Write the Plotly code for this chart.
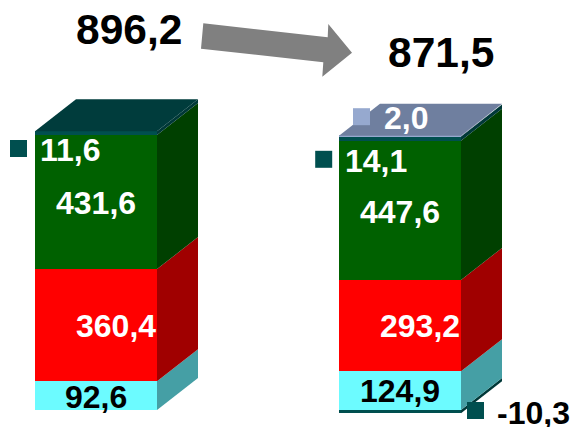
import plotly.graph_objects as go

# ---- data ----
bars = ["left", "right"]
cyan_vals = [92.6, 124.9]
red_vals = [360.4, 293.2]
green_vals = [431.6, 447.6]
teal_vals = [11.6, 14.1]
slate_vals = [0.0, 2.0]
negative_vals = [0.0, -10.3]
totals = [896.2, 871.5]

# ---- layout constants ----
W, H = 578, 427
PX_PER_UNIT = 0.311
BASE_PX = 410.0
BAR_STEP_PX = 304.0
BAR_W_PX = 122.0
LEFT_CENTER_PX = 96.0
DEPTH_X = 41.0 / BAR_STEP_PX
DEPTH_Y = 32.0 / PX_PER_UNIT
BAR_W = BAR_W_PX / BAR_STEP_PX

x_range = [-LEFT_CENTER_PX / BAR_STEP_PX, (W - LEFT_CENTER_PX) / BAR_STEP_PX]
y_range = [-(H - BASE_PX) / PX_PER_UNIT, BASE_PX / PX_PER_UNIT]

CYAN, CYAN_S = "#6CFBFF", "#459FA5"
RED, RED_S = "#FF0000", "#A00000"
GREEN, GREEN_S = "#006100", "#004000"
TEAL, TEAL_S = "#004F4F", "#003838"
SLATE, SLATE_S = "#96A9CF", "#6F7F9F"
TEAL_TOP = "#003C3C"
MARK_SLATE = "#96A9CF"

x_pos = [0, 1]
fig = go.Figure()

# front faces (stack order bottom to top)
for vals, col in [(cyan_vals, CYAN), (red_vals, RED), (green_vals, GREEN),
                  (teal_vals, TEAL), (slate_vals, SLATE), (negative_vals, TEAL)]:
    fig.add_trace(go.Bar(x=x_pos, y=vals, width=BAR_W, marker=dict(color=col, line=dict(width=0)),
                         hoverinfo="skip", showlegend=False))


def poly(xs, ys, col):
    fig.add_trace(go.Scatter(x=xs, y=ys, mode="lines", fill="toself", fillcolor=col,
                             line=dict(width=0, color=col), hoverinfo="skip", showlegend=False))


# side faces and tops, from the cumulative stack
for i, xc in enumerate(x_pos):
    r = xc + BAR_W / 2
    l = xc - BAR_W / 2
    base = 0.0
    if negative_vals[i] < 0:
        n = negative_vals[i]
        poly([r, r + DEPTH_X, r + DEPTH_X, r], [n, n + DEPTH_Y, DEPTH_Y, 0], TEAL_S)
    for vals, col in [(cyan_vals, CYAN_S), (red_vals, RED_S), (green_vals, GREEN_S),
                      (teal_vals, TEAL_S), (slate_vals, SLATE_S)]:
        v = vals[i]
        if v > 0:
            poly([r, r + DEPTH_X, r + DEPTH_X, r],
                 [base, base + DEPTH_Y, base + v + DEPTH_Y, base + v], col)
            base += v
    top_col = SLATE_S if slate_vals[i] > 0 else TEAL_TOP
    poly([l, l + DEPTH_X, r + DEPTH_X, r], [base, base + DEPTH_Y, base + DEPTH_Y, base], top_col)


def px(x):
    return x / W


def py(y):
    return 1 - y / H


def fmt(v):
    return f"{v:.1f}".replace(".", ",")


# square legend keys, placed in page pixels
keys = [(18.5, 148.5, TEAL), (323.7, 159.3, TEAL), (361.5, 116.7, MARK_SLATE), (475.5, 410.5, TEAL)]
for kx, ky, col in keys:
    fig.add_shape(type="rect", xref="paper", yref="paper",
                  x0=px(kx - 8.5), x1=px(kx + 8.5), y0=py(ky + 8.5), y1=py(ky - 8.5),
                  fillcolor=col, line=dict(width=0), layer="above")

# arrow
arrow_pts = [(203.3, 23.3), (327.7, 37.3), (328.3, 24), (352, 52.7), (322.3, 76.7), (323.3, 62.3), (201, 48.7)]
path = "M " + " L ".join(f"{px(a):.5f},{py(b):.5f}" for a, b in arrow_pts) + " Z"
fig.add_shape(type="path", xref="paper", yref="paper", path=path, fillcolor="#808080", line=dict(width=0))

# labels: text, centre x, centre y, colour, size
WHITE, BLACK = "#FFFFFF", "#000000"
labels = [
    (fmt(totals[0]), 129, 29.5, BLACK, 42.5),
    (fmt(totals[1]), 441, 52.5, BLACK, 42.5),
    (fmt(teal_vals[0]), 70.8, 149.5, WHITE, 32),
    (fmt(green_vals[0]), 95.5, 203, WHITE, 32),
    (fmt(red_vals[0]), 115.8, 325.5, WHITE, 32),
    (fmt(cyan_vals[0]), 95.5, 396.5, BLACK, 32),
    (fmt(slate_vals[1]), 406, 118, WHITE, 32),
    (fmt(teal_vals[1]), 376, 161, WHITE, 32),
    (fmt(green_vals[1]), 399.5, 211.5, WHITE, 32),
    (fmt(red_vals[1]), 419.5, 325.5, WHITE, 32),
    (fmt(cyan_vals[1]), 400, 390.5, BLACK, 32),
    (fmt(negative_vals[1]), 533.5, 412.5, BLACK, 32),
]
for t, lx, ly, col, size in labels:
    fig.add_annotation(text=f"<b>{t}</b>", xref="paper", yref="paper", x=px(lx), y=py(ly),
                       xanchor="center", yanchor="middle", showarrow=False,
                       font=dict(family="Liberation Sans", size=size, color=col))

fig.update_layout(
    width=W, height=H, margin=dict(l=0, r=0, t=0, b=0),
    barmode="relative", bargap=0,
    paper_bgcolor="white", plot_bgcolor="white", showlegend=False,
    xaxis=dict(range=x_range, visible=False, fixedrange=True),
    yaxis=dict(range=y_range, visible=False, fixedrange=True),
)
fig.write_html("out.html", config={"displayModeBar": False},
               post_script="document.body.style.margin='0';document.documentElement.style.overflow='hidden';")
